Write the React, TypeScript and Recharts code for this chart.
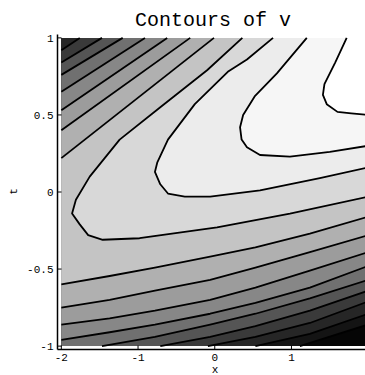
import React from 'react';
import { ComposedChart, Area, Line, XAxis, YAxis } from 'recharts';

type Pt = [number, number];

// Contour lines of v(x, t), as [x, t] pairs.
// Closed-off level curves around the maximum in the upper right.
const c1: Pt[] = [[1.72, 1], [1.57, 0.84], [1.43, 0.7], [1.41, 0.63], [1.46, 0.57], [1.6, 0.52], [1.78, 0.51], [2, 0.5]];
const c2: Pt[] = [[1.2, 1], [0.81, 0.77], [0.52, 0.62], [0.37, 0.5], [0.33, 0.42], [0.35, 0.34], [0.42, 0.29], [0.59, 0.24], [0.98, 0.23], [1.5, 0.26], [2, 0.3]];
const c3: Pt[] = [[0.76, 1], [0.42, 0.86], [0.17, 0.78], [-0.26, 0.57], [-0.61, 0.34], [-0.75, 0.19], [-0.78, 0.13], [-0.71, 0.05], [-0.61, -0.01], [-0.39, -0.03], [-0.06, -0.03], [0.59, 0.01], [1.37, 0.09], [2, 0.16]];
const c4: Pt[] = [[0.36, 1], [-0.1, 0.79], [-0.71, 0.55], [-1.24, 0.34], [-1.63, 0.1], [-1.81, -0.05], [-1.86, -0.14], [-1.76, -0.21], [-1.65, -0.28], [-1.46, -0.31], [-0.98, -0.3], [0.03, -0.23], [0.98, -0.14], [2, -0.03]];

// Diagonal level lines in the upper-left corner (top edge -> left edge).
const d1: Pt[] = [[-1.76, 1], [-2, 0.92]];
const d2: Pt[] = [[-1.47, 1], [-2, 0.84]];
const d3: Pt[] = [[-1.2, 1], [-2, 0.76]];
const d4: Pt[] = [[-0.91, 1], [-2, 0.65]];
const d5: Pt[] = [[-0.62, 1], [-2, 0.53]];
const d6: Pt[] = [[-0.32, 1], [-2, 0.4]];
const d7: Pt[] = [[-0.01, 1], [-2, 0.22]];

// Level lines in the lower half (left/bottom edge -> right edge).
const e1: Pt[] = [[-2, -0.6], [-1.37, -0.545], [-0.78, -0.49], [-0.06, -0.42], [0.53, -0.36], [1.24, -0.27], [2, -0.16]];
const e2: Pt[] = [[-2, -0.75], [-1.37, -0.7], [-0.78, -0.64], [-0.06, -0.57], [0.53, -0.49], [1.24, -0.39], [2, -0.28]];
const e3: Pt[] = [[-2, -0.86], [-1.37, -0.82], [-0.78, -0.77], [-0.06, -0.7], [0.53, -0.62], [1.24, -0.51], [2, -0.39]];
const e4: Pt[] = [[-2, -0.96], [-1.37, -0.91], [-0.78, -0.86], [-0.06, -0.79], [0.53, -0.72], [1.24, -0.62], [2, -0.48]];
const e5: Pt[] = [[-1.47, -1], [-0.78, -0.94], [-0.06, -0.86], [0.53, -0.79], [1.24, -0.69], [2, -0.57]];
const e6: Pt[] = [[-0.71, -1], [-0.06, -0.94], [0.53, -0.87], [1.24, -0.77], [2, -0.64]];
const e7: Pt[] = [[-0.09, -1], [0.53, -0.94], [1.24, -0.85], [2, -0.71]];
const e8: Pt[] = [[0.53, -1], [1.24, -0.92], [2, -0.79]];
const e9: Pt[] = [[1.11, -1], [2, -0.86]];

const xTicks = [-2, -1, 0, 1];
const tTicks = [-1, -0.5, 0, 0.5, 1];

// Plot range corners.
const X0 = -2;
const X1 = 2;
const T0 = -1;
const T1 = 1;

// Gray level of each band, from the highest values down.
const shades = ['#ffffff', '#f6f6f6', '#ececec', '#d8d8d8', '#c4c4c4', '#b0b0b0', '#9c9c9c', '#878787', '#707070', '#555555', '#3a3a3a', '#262626', '#141414', '#050505'];

// Regions where v lies above each level; each starts and ends on the top edge.
const regions: { key: string; pts: Pt[] }[] = [
  { key: 'below', pts: [[X0, T1], [X0, T0], [X1, T0], [X1, T1]] },
  { key: 'r12', pts: [[X0, T1], [X0, T0], ...e9, [X1, T1]] },
  { key: 'r11', pts: [[X0, T1], [X0, T0], ...e8, [X1, T1]] },
  { key: 'r10', pts: [...d1, [X0, T0], ...e7, [X1, T1]] },
  { key: 'r9', pts: [...d2, [X0, T0], ...e6, [X1, T1]] },
  { key: 'r8', pts: [...d3, [X0, T0], ...e5, [X1, T1]] },
  { key: 'r7', pts: [...d4, ...e4, [X1, T1]] },
  { key: 'r6', pts: [...d5, ...e3, [X1, T1]] },
  { key: 'r5', pts: [...d6, ...e2, [X1, T1]] },
  { key: 'r4', pts: [...d7, ...e1, [X1, T1]] },
  { key: 'r3', pts: [...c4, [X1, T1]] },
  { key: 'r2', pts: [...c3, [X1, T1]] },
  { key: 'r1', pts: [...c2, [X1, T1]] },
  { key: 'r0', pts: [...c1, [X1, T1]] },
];
const regionShade = (i: number) => shades[shades.length - 1 - i];

const contours: { key: string; pts: Pt[] }[] = [
  { key: 'c1', pts: c1 }, { key: 'c2', pts: c2 }, { key: 'c3', pts: c3 }, { key: 'c4', pts: c4 },
  { key: 'd1', pts: d1 }, { key: 'd2', pts: d2 }, { key: 'd3', pts: d3 }, { key: 'd4', pts: d4 },
  { key: 'd5', pts: d5 }, { key: 'd6', pts: d6 }, { key: 'd7', pts: d7 },
  { key: 'e1', pts: e1 }, { key: 'e2', pts: e2 }, { key: 'e3', pts: e3 }, { key: 'e4', pts: e4 },
  { key: 'e5', pts: e5 }, { key: 'e6', pts: e6 }, { key: 'e7', pts: e7 }, { key: 'e8', pts: e8 },
  { key: 'e9', pts: e9 },
];

// One table; each series only fills its own column, the rest stay empty.
const table: Record<string, number>[] = [
  ...regions.flatMap((r) => r.pts.map(([x, t]) => ({ x, [r.key]: t }))),
  ...contours.flatMap((c) => c.pts.map(([x, t]) => ({ x, [c.key]: t }))),
];

const mono = '"Liberation Mono", "DejaVu Sans Mono", monospace';
const tickFont = { fill: '#000', fontSize: 11, fontFamily: mono };
const frame = { stroke: '#000', strokeWidth: 1.5 };

export default function App() {
  return (
    <div style={{ position: 'fixed', left: 0, top: 0, width: 365, height: 375, overflow: 'hidden', background: '#fff' }}>
      <div
        style={{
          position: 'absolute', left: 113, top: 10.7, width: 200, textAlign: 'center',
          fontFamily: mono, fontSize: 20, lineHeight: '20px', color: '#000',
        }}
      >
        Contours of v
      </div>
      <div
        style={{
          position: 'absolute', left: 205, top: 366, width: 20, textAlign: 'center',
          fontFamily: mono, fontSize: 11, lineHeight: '9px', color: '#000',
        }}
      >
        x
      </div>
      <div
        style={{
          position: 'absolute', left: 3.5, top: 185.5, width: 20, height: 11, textAlign: 'center',
          fontFamily: mono, fontSize: 11, lineHeight: '11px', color: '#000', transform: 'rotate(-90deg)',
        }}
      >
        t
      </div>
      <div style={{ position: 'absolute', left: 0, top: 0 }}>
        <ComposedChart width={380} height={375} data={table} margin={{ top: 34.5, right: 8, bottom: 0, left: 0 }}>
          <XAxis
            type="number" dataKey="x" domain={[-2.05, 2.05]} allowDataOverflow ticks={xTicks} interval={0}
            height={25.5} tickSize={-4} tickMargin={8} axisLine={frame} tickLine={{ stroke: '#000' }} tick={tickFont}
          />
          <XAxis
            xAxisId="top" orientation="top" type="number" dataKey="x" domain={[-2.05, 2.05]} allowDataOverflow
            ticks={xTicks} interval={0} height={0} tickSize={-4} tick={false} axisLine={frame} tickLine={{ stroke: '#000' }}
          />
          <YAxis
            type="number" domain={[-1.022, 1.022]} allowDataOverflow ticks={tTicks} interval={0}
            width={57.5} tickSize={-4} tickMargin={8} axisLine={frame} tickLine={{ stroke: '#000' }} tick={tickFont}
          />
          {regions.map((r, i) => (
            <Area
              key={r.key} dataKey={r.key} type="linear" baseValue={1} connectNulls
              fill={regionShade(i)} fillOpacity={1} stroke="none" dot={false} activeDot={false}
              isAnimationActive={false}
            />
          ))}
          {contours.map((c) => (
            <Line
              key={c.key} dataKey={c.key} type="linear" connectNulls stroke="#000" strokeWidth={1.8}
              strokeLinejoin="round" dot={false} activeDot={false} isAnimationActive={false}
            />
          ))}
        </ComposedChart>
      </div>
    </div>
  );
}
